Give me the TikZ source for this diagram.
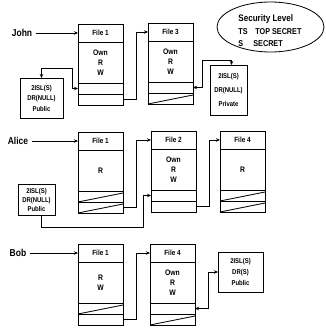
\documentclass[tikz,border=0pt]{standalone}
\usepackage{fontspec}
\setmainfont[FakeStretch=0.85]{Liberation Sans}
\usetikzlibrary{positioning,calc,arrows.meta,shapes.geometric}
\newcommand\filecol[5]{%
  \node[hdr, anchor=north west] (#1h) at (#2,#3) {#4};
  \node[bdy, below=0pt of #1h] (#1b) {#5};
  \node[rowbox, below=0pt of #1b] (#1r1) {};
  \node[rowbox, below=0pt of #1r1] (#1r2) {};
}
\newcommand\rowslant[1]{\draw (#1.south west) -- ([yshift=-2pt]#1.north east);}
\begin{document}
\begin{tikzpicture}[x=1pt,y=-1pt, line width=0.8pt,
  hdr/.style={draw, minimum width=45pt, minimum height=18pt, inner sep=0pt, outer sep=0pt, font=\fontsize{7.5}{8}\selectfont\bfseries},
  bdy/.style={draw, minimum width=45pt, minimum height=41pt, inner sep=0pt, outer sep=0pt, align=center, font=\fontsize{8}{10}\selectfont\bfseries},
  rowbox/.style={draw, minimum width=45pt, minimum height=11pt, inner sep=0pt, outer sep=0pt},
  desc/.style={draw, inner sep=0pt, outer sep=0pt, align=center},
  who/.style={font=\fontsize{10}{12}\selectfont\bfseries},
  sec/.style={anchor=west, inner sep=0pt, font=\fontsize{8.5}{11}\selectfont\bfseries},
  ptr/.style={-{Stealth[length=4pt,width=3.5pt]}},
  dptr/.style={{Stealth[length=4pt,width=3.5pt]}-{Stealth[length=4pt,width=3.5pt]}},
]
\useasboundingbox (0,0) rectangle (326,332);

% files
\filecol{J1}{78}{24}{File 1}{Own\\R\\W}
\filecol{J3}{148}{23}{File 3}{Own\\R\\W}
\filecol{A1}{78}{132}{File 1}{R}
\filecol{A2}{151}{131}{File 2}{Own\\R\\W}
\filecol{A4}{220}{131}{File 4}{R}
\filecol{B1}{78}{244}{File 1}{R\\W}
\filecol{B4}{150}{244}{File 4}{Own\\R\\W}

\rowslant{J3r2}
\rowslant{A1r1}
\rowslant{A1r2}
\rowslant{A4r1}
\rowslant{A4r2}
\rowslant{B1r1}
\rowslant{B4r2}

% descriptors
\node[desc, minimum width=43pt, minimum height=40pt, font=\fontsize{7}{10.5}\selectfont\bfseries] (JD1) at (41.5,98) {2ISL(S)\\DR(NULL)\\Public};
\node[desc, minimum width=37pt, minimum height=50pt, font=\fontsize{7}{14}\selectfont\bfseries] (JD3) at (228.5,90) {2ISL(S)\\DR(NULL)\\Private};
\node[desc, minimum width=37pt, minimum height=31pt, font=\fontsize{7}{9}\selectfont\bfseries] (AD) at (36.5,199.5) {2ISL(S)\\DR(NULL)\\Public};
\node[desc, minimum width=45pt, minimum height=40pt, font=\fontsize{7}{11}\selectfont\bfseries] (BD) at (240.5,272) {2ISL(S)\\DR(S)\\Public};

% users
\node[who] (john) at (22,33) {John};
\node[who] (alice) at (18,141) {Alice};
\node[who] (bob) at (18,253) {Bob};
\draw[ptr] (john.east) -- (J1h.west);
\draw[ptr] (alice.east) -- (A1h.west);
\draw[ptr] (bob.east) -- (B1h.west);

% connectors
\draw[ptr] (J1r2.east) -- ++(13,0) |- (J3h.west);
\draw[dptr] (JD1.north) -- ++(0,-10) -| ($(J1r1.west)+(-6,0)$) -- (J1r1.west);
\draw[dptr] ([xshift=3pt]JD3.north) -- ++(0,-5) -| ($(J3r1.east)+(9,0)$) -- (J3r1.east);
\draw[ptr] (A1r2.east) -- ++(13,0) |- (A2h.west);
\draw[ptr] ([xshift=5pt]AD.south) -- ++(0,12) -| ($(A2r1.west)+(-8,0)$) -- (A2r1.west);
\draw[ptr] (A2r2.east) -- ++(13,0) |- (A4h.west);
\draw[ptr] (B1r2.east) -- ++(13,0) |- (B4h.west);
\draw[dptr] (B4r1.east) -- ++(13,0) |- (BD.west);

% security level legend
\node[draw, ellipse, minimum width=107pt, minimum height=50pt, inner sep=0pt] (secell) at (270.5,27) {};
\node[sec, font=\fontsize{9.5}{11}\selectfont\bfseries] (sectitle) at (238,19) {Security Level};
\node[sec] (ts) at (238,32) {TS};
\node[sec] (tsname) at (255,32) {TOP SECRET};
\node[sec] (s) at (238,44) {S};
\node[sec] (sname) at (253,44) {SECRET};
\end{tikzpicture}
\end{document}
